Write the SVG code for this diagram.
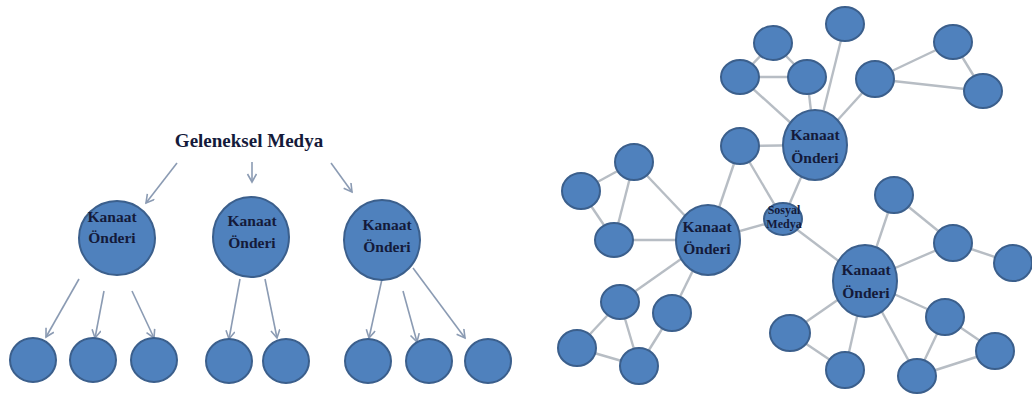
<svg xmlns="http://www.w3.org/2000/svg" width="1032" height="394" viewBox="0 0 1032 394">
<style>
.n{fill:#4f81bd;stroke:#3b5f8c;stroke-width:2}
.t{font-family:"Liberation Serif",serif;font-weight:bold;fill:#141a3a;text-anchor:middle}
.k{font-size:15.5px}
.s{font-size:12px}
.a{stroke:#8b9bb3;stroke-width:1.6;fill:none;marker-end:url(#ah)}
.e{stroke:#b7bdc4;stroke-width:2.4;fill:none}
</style>
<defs>
<marker id="ah" markerUnits="userSpaceOnUse" markerWidth="12" markerHeight="12" refX="9" refY="5" orient="auto">
<path d="M1,0.5 L9,5 L1,9.5" fill="none" stroke="#8b9bb3" stroke-width="1.6"/>
</marker>
</defs>
<rect width="1032" height="394" fill="#ffffff"/>
<g id="connectors">
<line class="a" x1="177" y1="163" x2="146" y2="203"/>
<line class="a" x1="252" y1="162" x2="252" y2="182"/>
<line class="a" x1="331" y1="163" x2="352" y2="192"/>
<line class="a" x1="79" y1="279" x2="46" y2="337"/>
<line class="a" x1="104" y1="291" x2="95" y2="338"/>
<line class="a" x1="132" y1="291" x2="154" y2="338"/>
<line class="a" x1="240" y1="279" x2="229" y2="339"/>
<line class="a" x1="265" y1="279" x2="277" y2="338"/>
<line class="a" x1="382" y1="279" x2="369" y2="338"/>
<line class="a" x1="403" y1="291" x2="417" y2="342"/>
<line class="a" x1="413" y1="268" x2="465" y2="338"/>
<g>
<line class="e" x1="815" y1="145" x2="807" y2="77"/>
<line class="e" x1="815" y1="145" x2="740" y2="77"/>
<line class="e" x1="815" y1="145" x2="845" y2="24"/>
<line class="e" x1="815" y1="145" x2="875" y2="79"/>
<line class="e" x1="815" y1="145" x2="740" y2="146"/>
<line class="e" x1="815" y1="145" x2="783" y2="219"/>
<line class="e" x1="773" y1="43" x2="740" y2="77"/>
<line class="e" x1="773" y1="43" x2="807" y2="77"/>
<line class="e" x1="740" y1="77" x2="807" y2="77"/>
<line class="e" x1="875" y1="79" x2="953" y2="42"/>
<line class="e" x1="875" y1="79" x2="983" y2="91"/>
<line class="e" x1="953" y1="42" x2="983" y2="91"/>
<line class="e" x1="740" y1="146" x2="708" y2="240"/>
<line class="e" x1="740" y1="146" x2="783" y2="219"/>
<line class="e" x1="634" y1="162" x2="581" y2="191"/>
<line class="e" x1="634" y1="162" x2="708" y2="240"/>
<line class="e" x1="634" y1="162" x2="614" y2="240"/>
<line class="e" x1="581" y1="191" x2="614" y2="240"/>
<line class="e" x1="614" y1="240" x2="708" y2="240"/>
<line class="e" x1="708" y1="240" x2="783" y2="219"/>
<line class="e" x1="783" y1="219" x2="865" y2="281"/>
<line class="e" x1="708" y1="240" x2="620" y2="302"/>
<line class="e" x1="708" y1="240" x2="672" y2="313"/>
<line class="e" x1="620" y1="302" x2="577" y2="348"/>
<line class="e" x1="620" y1="302" x2="639" y2="366"/>
<line class="e" x1="577" y1="348" x2="639" y2="366"/>
<line class="e" x1="672" y1="313" x2="639" y2="366"/>
<line class="e" x1="865" y1="281" x2="894" y2="195"/>
<line class="e" x1="865" y1="281" x2="953" y2="243"/>
<line class="e" x1="894" y1="195" x2="953" y2="243"/>
<line class="e" x1="953" y1="243" x2="1013" y2="263"/>
<line class="e" x1="865" y1="281" x2="790" y2="333"/>
<line class="e" x1="865" y1="281" x2="845" y2="370"/>
<line class="e" x1="865" y1="281" x2="917" y2="376"/>
<line class="e" x1="865" y1="281" x2="945" y2="317"/>
<line class="e" x1="790" y1="333" x2="845" y2="370"/>
<line class="e" x1="945" y1="317" x2="917" y2="376"/>
<line class="e" x1="945" y1="317" x2="995" y2="351"/>
<line class="e" x1="995" y1="351" x2="917" y2="376"/>
</g>
</g>
<g id="geleneksel-medya"><text class="t" x="249" y="147" font-size="19">Geleneksel Medya</text></g>
<g id="l-k1"><ellipse class="n" cx="117" cy="238" rx="38" ry="37"/><text class="t k" x="112" y="222">Kanaat</text><text class="t k" x="112" y="243">Önderi</text></g>
<g id="l-k2"><ellipse class="n" cx="251" cy="237" rx="38" ry="40"/><text class="t k" x="252" y="226">Kanaat</text><text class="t k" x="252" y="248">Önderi</text></g>
<g id="l-k3"><ellipse class="n" cx="382" cy="240" rx="38" ry="40"/><text class="t k" x="387" y="230">Kanaat</text><text class="t k" x="387" y="252">Önderi</text></g>
<g id="l-c1"><ellipse class="n" cx="33" cy="360" rx="23" ry="22"/></g>
<g id="l-c2"><ellipse class="n" cx="93" cy="360" rx="23" ry="22"/></g>
<g id="l-c3"><ellipse class="n" cx="154" cy="360" rx="23" ry="22"/></g>
<g id="l-c4"><ellipse class="n" cx="229" cy="361" rx="23" ry="22"/></g>
<g id="l-c5"><ellipse class="n" cx="286" cy="361" rx="23" ry="22"/></g>
<g id="l-c6"><ellipse class="n" cx="368" cy="361" rx="23" ry="22"/></g>
<g id="l-c7"><ellipse class="n" cx="429" cy="361" rx="23" ry="22"/></g>
<g id="l-c8"><ellipse class="n" cx="488" cy="361" rx="23" ry="22"/></g>
<g id="r-c1"><ellipse class="n" cx="845" cy="24" rx="19" ry="17"/></g>
<g id="r-c2"><ellipse class="n" cx="773" cy="43" rx="19" ry="17"/></g>
<g id="r-c3"><ellipse class="n" cx="740" cy="77" rx="19" ry="17"/></g>
<g id="r-c4"><ellipse class="n" cx="807" cy="77" rx="19" ry="17"/></g>
<g id="r-c5"><ellipse class="n" cx="875" cy="79" rx="19" ry="18"/></g>
<g id="r-c6"><ellipse class="n" cx="953" cy="42" rx="19" ry="17"/></g>
<g id="r-c7"><ellipse class="n" cx="983" cy="91" rx="19" ry="17"/></g>
<g id="r-c8"><ellipse class="n" cx="740" cy="146" rx="19" ry="18"/></g>
<g id="r-c9"><ellipse class="n" cx="634" cy="162" rx="19" ry="18"/></g>
<g id="r-c10"><ellipse class="n" cx="581" cy="191" rx="19" ry="18"/></g>
<g id="r-c11"><ellipse class="n" cx="894" cy="195" rx="19" ry="18"/></g>
<g id="r-c12"><ellipse class="n" cx="614" cy="240" rx="19" ry="17"/></g>
<g id="r-c13"><ellipse class="n" cx="953" cy="243" rx="19" ry="18"/></g>
<g id="r-c14"><ellipse class="n" cx="1013" cy="263" rx="19" ry="18"/></g>
<g id="r-c15"><ellipse class="n" cx="620" cy="302" rx="19" ry="17"/></g>
<g id="r-c16"><ellipse class="n" cx="672" cy="313" rx="19" ry="18"/></g>
<g id="r-c17"><ellipse class="n" cx="577" cy="348" rx="19" ry="18"/></g>
<g id="r-c18"><ellipse class="n" cx="639" cy="366" rx="19" ry="18"/></g>
<g id="r-c19"><ellipse class="n" cx="790" cy="333" rx="20" ry="18"/></g>
<g id="r-c20"><ellipse class="n" cx="845" cy="370" rx="19" ry="18"/></g>
<g id="r-c21"><ellipse class="n" cx="945" cy="317" rx="19" ry="18"/></g>
<g id="r-c22"><ellipse class="n" cx="995" cy="351" rx="19" ry="18"/></g>
<g id="r-c23"><ellipse class="n" cx="917" cy="376" rx="19" ry="17"/></g>
<g id="r-k1"><ellipse class="n" cx="815" cy="145" rx="32" ry="35"/><text class="t k" x="815" y="140">Kanaat</text><text class="t k" x="815" y="163">Önderi</text></g>
<g id="r-k2"><ellipse class="n" cx="708" cy="240" rx="32" ry="35"/><text class="t k" x="707" y="232">Kanaat</text><text class="t k" x="707" y="254">Önderi</text></g>
<g id="r-k3"><ellipse class="n" cx="865" cy="281" rx="32" ry="36"/><text class="t k" x="866" y="275">Kanaat</text><text class="t k" x="866" y="298">Önderi</text></g>
<g id="r-sosyal"><ellipse class="n" cx="783" cy="219" rx="19" ry="16"/><text class="t s" x="784" y="214">Sosyal</text><text class="t s" x="784" y="228">Medya</text></g>
</svg>
